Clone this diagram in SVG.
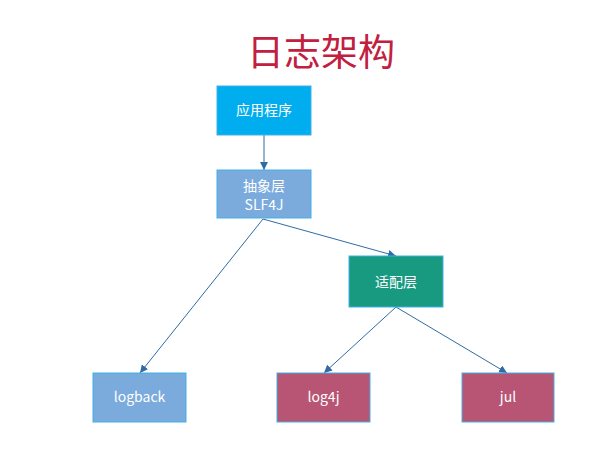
<svg xmlns="http://www.w3.org/2000/svg" width="610" height="457" viewBox="0 0 610 457">
<style>
.box{stroke:#3FB2E6;stroke-width:1}
.lbl{font-family:"Noto Sans CJK SC","Noto Sans",sans-serif;font-size:14px;fill:#fff;text-anchor:middle}
.edge{stroke:#2F6CA3;stroke-width:1;fill:none;marker-end:url(#arr)}
</style>
<defs>
<marker id="arr" viewBox="0 0 10 10" refX="10" refY="5" markerWidth="8" markerHeight="8" markerUnits="userSpaceOnUse" orient="auto">
<path d="M0,0 L10,5 L0,10 z" fill="#2F6CA3"/>
</marker>
</defs>
<rect width="610" height="457" fill="#fff"/>
<text x="321" y="66" font-family="Noto Sans CJK SC,sans-serif" font-size="37" fill="#C1213F" text-anchor="middle">日志架构</text>
<g id="edges">
<line class="edge" x1="264" y1="135" x2="264" y2="170"/>
<line class="edge" x1="263" y1="219" x2="396" y2="256"/>
<line class="edge" x1="263" y1="219" x2="140" y2="373"/>
<line class="edge" x1="396" y1="307" x2="324" y2="373"/>
<line class="edge" x1="396" y1="307" x2="507" y2="373"/>
</g>
<g id="app">
<rect class="box" x="217" y="86" width="94" height="49" fill="#00AEEF"/>
<text class="lbl" x="264" y="115">应用程序</text>
</g>
<g id="slf4j">
<rect class="box" x="217" y="170" width="94" height="48" fill="#7BAADD"/>
<text class="lbl" x="264" y="191">抽象层</text>
<text class="lbl" x="264" y="210">SLF4J</text>
</g>
<g id="adapter">
<rect class="box" x="349" y="256" width="94" height="51" fill="#179A80"/>
<text class="lbl" x="396" y="287">适配层</text>
</g>
<g id="logback">
<rect class="box" x="93" y="373" width="93" height="49" fill="#7BAADD"/>
<text class="lbl" x="139.500" y="402">logback</text>
</g>
<g id="log4j">
<rect class="box" x="277" y="373" width="93" height="49" fill="#B85574"/>
<text class="lbl" x="323.500" y="402">log4j</text>
</g>
<g id="jul">
<rect class="box" x="462" y="373" width="92" height="49" fill="#B85574"/>
<text class="lbl" x="508" y="402">jul</text>
</g>
</svg>
